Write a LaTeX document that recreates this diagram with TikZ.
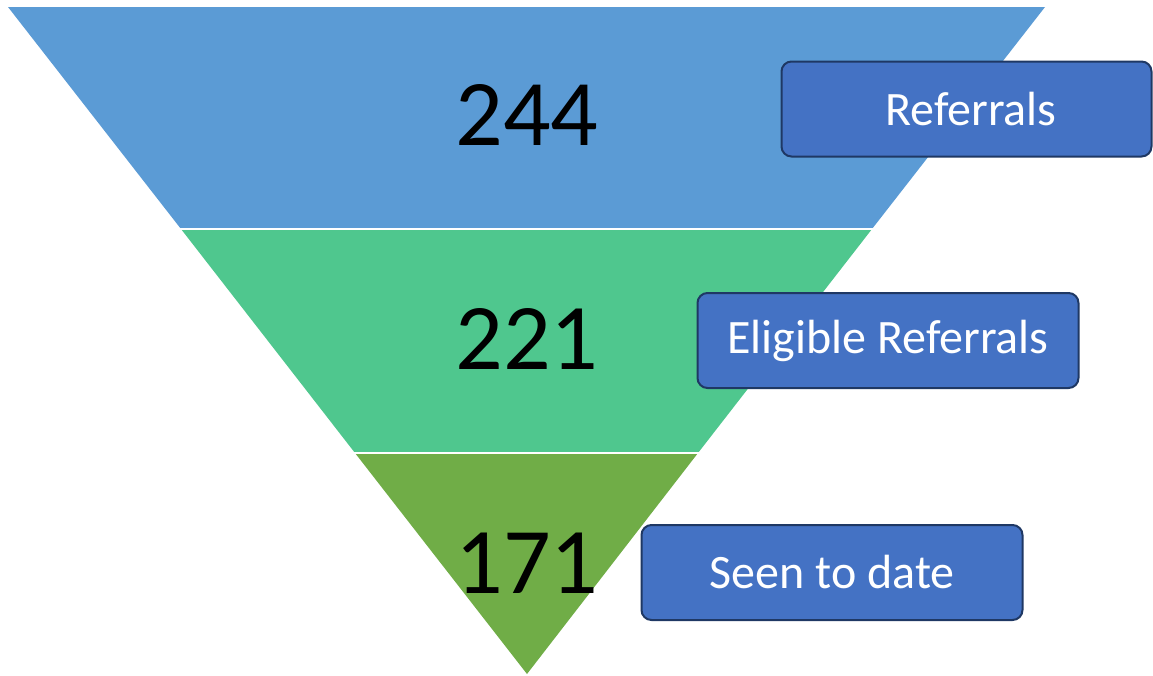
\documentclass[tikz,border=0pt]{standalone}
\usepackage{fontspec}
\setmainfont{Carlito}
\usetikzlibrary{positioning}

\definecolor{bandblue}{RGB}{91,155,213}
\definecolor{bandgreen}{RGB}{79,199,142}
\definecolor{bandolive}{RGB}{112,173,71}
\definecolor{tagfill}{RGB}{68,114,196}
\definecolor{tagline}{RGB}{31,56,100}

\tikzset{
  count/.style={font=\fontsize{94}{94}\selectfont, text=black},
  tag/.style={draw=tagline, line width=2pt, fill=tagfill, rounded corners=10pt,
    text=white, font=\fontsize{48}{48}\selectfont, minimum height=95pt, inner sep=0pt},
  gap/.style={white, line width=2.5pt}
}

\begin{document}
\begin{tikzpicture}[x=1pt, y=-1pt]
  \useasboundingbox (0,0) rectangle (1153,675);

  % Funnel corners
  \coordinate (tl) at (8,7);
  \coordinate (tr) at (1045,7);
  \coordinate (ml) at (181,229);
  \coordinate (mr) at (872,229);
  \coordinate (ll) at (355,453);
  \coordinate (lr) at (698,453);
  \coordinate (tip) at (527,674);

  % Draw the three bands
  \fill[bandblue] (tl) -- (tr) -- (mr) -- (ml) -- cycle;
  \fill[bandgreen] (ml) -- (mr) -- (lr) -- (ll) -- cycle;
  \fill[bandolive] (ll) -- (lr) -- (tip) -- cycle;
  \draw[gap] ([xshift=-5pt]ml) -- ([xshift=5pt]mr);
  \draw[gap] ([xshift=-5pt]ll) -- ([xshift=5pt]lr);

  % Counts
  \node[count] (n244) at (527,115) {244};
  \node[count] (n221) at (527,339) {221};
  \node[count] (n171) at (527,563) {171};

  % Labels
  \node[tag, minimum width=370pt] (referrals) at (966.5,109) {};
  \node[text=white, font=\fontsize{48}{48}\selectfont] (reftext) at (971,109) {Referrals};
  \node[tag, minimum width=381pt] (eligible) at (888,340.5) {Eligible Referrals};
  \node[tag, minimum width=381pt] (seen) at (832,572.5) {Seen to date};
\end{tikzpicture}
\end{document}
